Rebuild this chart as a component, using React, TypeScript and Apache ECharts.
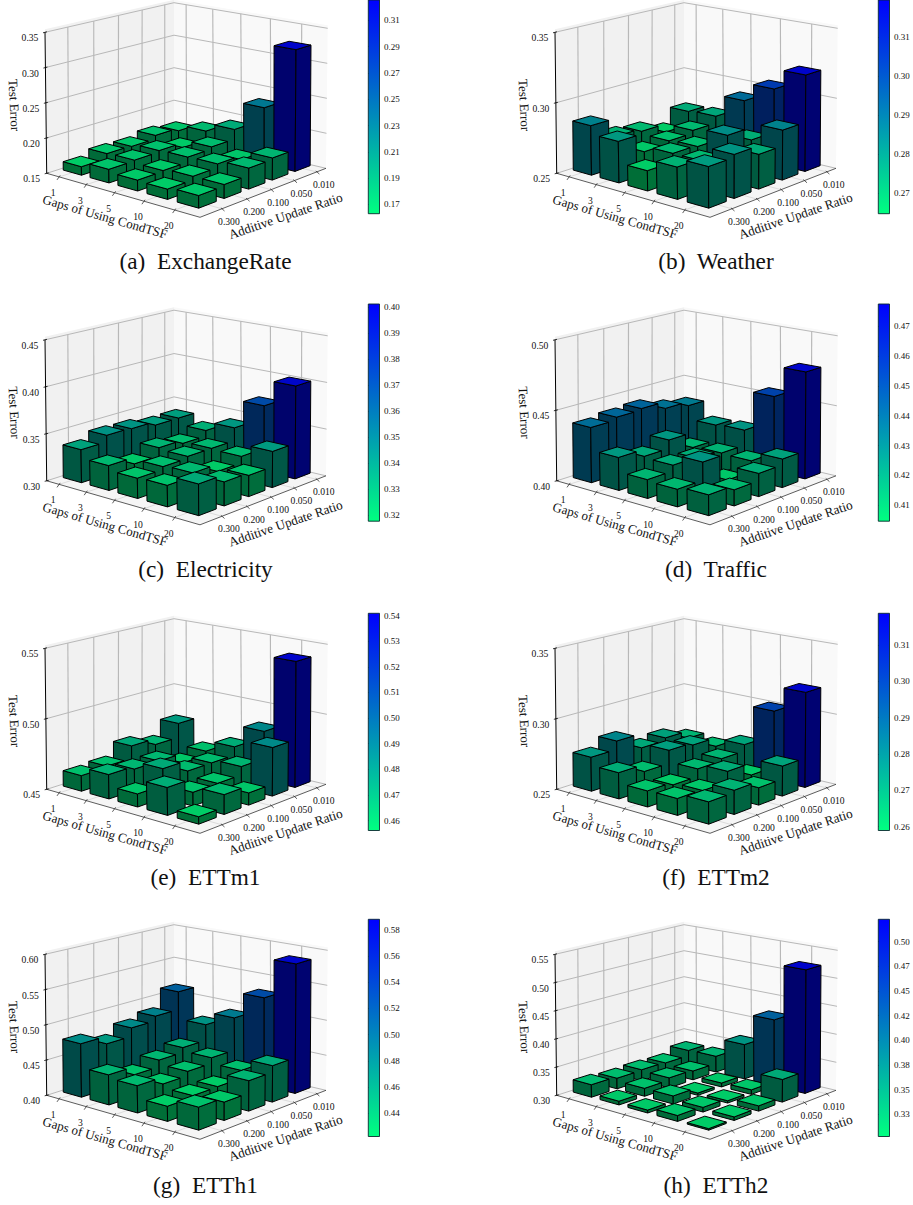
import React, { useEffect, useRef } from "react";
import * as echarts from "echarts";

const gapLabels = ["1", "3", "5", "10", "20"];
const ratioLabels = ["0.010", "0.050", "0.100", "0.200", "0.300"];

// rows: additive update ratio 0.010 -> 0.300; columns: gaps 1 -> 20
const exchangeRate = [
  [0.169, 0.178, 0.19, 0.231, 0.323],
  [0.173, 0.165, 0.176, 0.168, 0.181],
  [0.168, 0.172, 0.173, 0.174, 0.179],
  [0.169, 0.17, 0.166, 0.169, 0.169],
  [0.162, 0.169, 0.165, 0.164, 0.167],
];
const weather = [
  [0.274, 0.275, 0.291, 0.304, 0.3185],
  [0.264, 0.27, 0.2635, 0.273, 0.285],
  [0.27, 0.268, 0.269, 0.282, 0.274],
  [0.272, 0.266, 0.27, 0.27, 0.28],
  [0.285, 0.279, 0.264, 0.272, 0.278],
];
const electricity = [
  [0.337, 0.33, 0.34, 0.371, 0.399],
  [0.337, 0.324, 0.326, 0.325, 0.338],
  [0.341, 0.3277, 0.326, 0.318, 0.322],
  [0.342, 0.319, 0.324, 0.3255, 0.3246],
  [0.335, 0.326, 0.321, 0.322, 0.332],
];
const traffic = [
  [0.434, 0.424, 0.425, 0.454, 0.476],
  [0.437, 0.413, 0.414, 0.4135, 0.42],
  [0.442, 0.424, 0.416, 0.406, 0.416],
  [0.441, 0.418, 0.417, 0.4245, 0.411],
  [0.439, 0.423, 0.413, 0.412, 0.414],
];
const ettm1 = [
  [0.477, 0.461, 0.469, 0.485, 0.5395],
  [0.4666, 0.458, 0.463, 0.4655, 0.484],
  [0.471, 0.465, 0.463, 0.4596, 0.4584],
  [0.462, 0.465, 0.4705, 0.4595, 0.4635],
  [0.461, 0.467, 0.459, 0.469, 0.455],
];
const ettm2 = [
  [0.266, 0.2646, 0.2706, 0.2996, 0.3175],
  [0.2715, 0.271, 0.266, 0.2595, 0.271],
  [0.2696, 0.2727, 0.2645, 0.268, 0.262],
  [0.28, 0.2633, 0.2592, 0.2607, 0.2665],
  [0.274, 0.2683, 0.2611, 0.2615, 0.265],
];
const etth1 = [
  [0.5105, 0.47, 0.489, 0.527, 0.584],
  [0.484, 0.447, 0.442, 0.434, 0.451],
  [0.477, 0.44, 0.434, 0.423, 0.442],
  [0.4646, 0.4305, 0.428, 0.4227, 0.425],
  [0.4755, 0.442, 0.4376, 0.4206, 0.431],
];
const etth2 = [
  [0.328, 0.329, 0.3625, 0.419, 0.5195],
  [0.3185, 0.316, 0.307, 0.308, 0.3395],
  [0.32, 0.318, 0.304, 0.304, 0.309],
  [0.319, 0.314, 0.314, 0.308, 0.306],
  [0.322, 0.3065, 0.305, 0.31, 0.3025],
];

const zTicksA = ["0.15", "0.20", "0.25", "0.30", "0.35"];
const zTicksB = ["0.25", "0.30", "0.35"];
const zTicksC = ["0.30", "0.35", "0.40", "0.45"];
const zTicksD = ["0.40", "0.45", "0.50"];
const zTicksE = ["0.45", "0.50", "0.55"];
const zTicksG = ["0.40", "0.45", "0.50", "0.55", "0.60"];
const zTicksH = ["0.30", "0.35", "0.40", "0.45", "0.50", "0.55"];

const cbA = ["0.17", "0.19", "0.21", "0.23", "0.25", "0.27", "0.29", "0.31"];
const cbB = ["0.27", "0.28", "0.29", "0.30", "0.31"];
const cbC = ["0.32", "0.33", "0.34", "0.35", "0.36", "0.37", "0.38", "0.39", "0.40"];
const cbD = ["0.41", "0.42", "0.43", "0.44", "0.45", "0.46", "0.47"];
const cbE = ["0.46", "0.47", "0.48", "0.49", "0.50", "0.51", "0.52", "0.53", "0.54"];
const cbF = ["0.26", "0.27", "0.28", "0.29", "0.30", "0.31"];
const cbG = ["0.44", "0.46", "0.48", "0.50", "0.52", "0.54", "0.56", "0.58"];
const cbHValues = [0.325, 0.35, 0.375, 0.4, 0.425, 0.45, 0.475, 0.5];
const cbHLabels = ["0.33", "0.35", "0.38", "0.40", "0.42", "0.45", "0.47", "0.50"];

// colour bar extents
const rangeA = [0.163, 0.3255];
const rangeB = [0.2648, 0.3196];
const rangeC = [0.3177, 0.4013];
const rangeD = [0.4047, 0.4774];
const rangeE = [0.4561, 0.5409];
const rangeF = [0.2589, 0.3187];
const rangeG = [0.4224, 0.588];
const rangeH = [0.3024, 0.5226];

const panels = [
  { title: "(a)  ExchangeRate", values: exchangeRate, z: zTicksA, cb: cbA.map(Number), cbL: cbA, range: rangeA, col: 0, row: 0 },
  { title: "(b)  Weather", values: weather, z: zTicksB, cb: cbB.map(Number), cbL: cbB, range: rangeB, col: 1, row: 0 },
  { title: "(c)  Electricity", values: electricity, z: zTicksC, cb: cbC.map(Number), cbL: cbC, range: rangeC, col: 0, row: 1 },
  { title: "(d)  Traffic", values: traffic, z: zTicksD, cb: cbD.map(Number), cbL: cbD, range: rangeD, col: 1, row: 1 },
  { title: "(e)  ETTm1", values: ettm1, z: zTicksE, cb: cbE.map(Number), cbL: cbE, range: rangeE, col: 0, row: 2 },
  { title: "(f)  ETTm2", values: ettm2, z: zTicksB, cb: cbF.map(Number), cbL: cbF, range: rangeF, col: 1, row: 2 },
  { title: "(g)  ETTh1", values: etth1, z: zTicksG, cb: cbG.map(Number), cbL: cbG, range: rangeG, col: 0, row: 3 },
  { title: "(h)  ETTh2", values: etth2, z: zTicksH, cb: cbHValues, cbL: cbHLabels, range: rangeH, col: 1, row: 3 },
];

const colX = [0, 510];
const rowY = [0, 307.5, 616, 922];
const FONT = '"Liberation Serif", "Times New Roman", serif';

type P = [number, number];
function homography(p00: P, p10: P, p11: P, p01: P) {
  const dx1 = p10[0] - p11[0], dy1 = p10[1] - p11[1];
  const dx2 = p01[0] - p11[0], dy2 = p01[1] - p11[1];
  const sx = p00[0] - p10[0] + p11[0] - p01[0];
  const sy = p00[1] - p10[1] + p11[1] - p01[1];
  const det = dx1 * dy2 - dx2 * dy1;
  const g = (sx * dy2 - sy * dx2) / det;
  const h = (dx1 * sy - dy1 * sx) / det;
  const a = p10[0] - p00[0] + g * p10[0], b = p01[0] - p00[0] + h * p01[0], c = p00[0];
  const d = p10[1] - p00[1] + g * p10[1], e = p01[1] - p00[1] + h * p01[1], f = p00[1];
  return (u: number, v: number): P => {
    const w = g * u + h * v + 1;
    return [(a * u + b * v + c) / w, (d * u + e * v + f) / w];
  };
}
// u runs along Gaps (back -> right), v along Ratio (back -> left)
const floorH = homography([174, 132.7], [326, 168.3], [200, 217.3], [46.7, 173.3]);
const topH = homography([174, 2.7], [327.7, 28.3], [199, 67], [45, 32.3]);
const proj = (ox: number, oy: number, u: number, v: number, f: number): P => {
  const a = floorH(u, v), b = topH(u, v);
  return [ox + a[0] + (b[0] - a[0]) * f, oy + a[1] + (b[1] - a[1]) * f];
};
const uAt = (i: number) => 0.09 + 0.19 * i;
const vAt = (j: number) => 0.08 + 0.19 * j;
const HALF = 0.065;

const poly = (points: P[], fill: string, stroke?: string, lineWidth = 1) => ({
  type: "polygon",
  shape: { points },
  style: { fill, stroke: stroke || "none", lineWidth, lineJoin: "round" },
});
const seg = (a: P, b: P, stroke: string, lineWidth: number) => ({
  type: "line",
  shape: { x1: a[0], y1: a[1], x2: b[0], y2: b[1] },
  style: { stroke, lineWidth, fill: "none" },
});
const txt = (text: string, x: number, y: number, fontSize: number, rotation = 0, color = "#111") => ({
  type: "text",
  x,
  y,
  rotation,
  style: { text, fontSize, fontFamily: FONT, fill: color, align: "center", verticalAlign: "middle" },
});

function shade(t: number, k: number) {
  const g = Math.round(255 * (1 - t) * k);
  const b = Math.round(255 * (0.5 + 0.5 * t) * k);
  return `rgb(0,${g},${b})`;
}

function buildOption() {
  const series: any[] = [];
  const grid: any[] = [];
  const xAxis: any[] = [];
  const yAxis: any[] = [];
  const graphic: any[] = [];

  panels.forEach((p, idx) => {
    const ox = colX[p.col], oy = rowY[p.row];
    const zs = p.z.map(Number);
    const zMin = zs[0], zMax = zs[zs.length - 1];
    const vMin = p.range[0], vMax = p.range[1];

    series.push({
      type: "custom",
      coordinateSystem: "none",
      silent: true,
      z: 1,
      data: [[idx]],
      renderItem: () => {
        const P = (u: number, v: number, f: number) => proj(ox, oy, u, v, f);
        const ch: any[] = [];
        const TOP = 1.022;
        ch.push(poly([P(0, 0, 0), P(0, 1, 0), P(0, 1, TOP), P(0, 0, TOP)], "#f1f1f1"));
        ch.push(poly([P(0, 0, 0), P(1, 0, 0), P(1, 0, TOP), P(0, 0, TOP)], "#f9f9f9"));
        ch.push(poly([P(0, 0, 0), P(1, 0, 0), P(1, 1, 0), P(0, 1, 0)], "#f5f5f5"));
        const GRID = "#b8b8b8";
        zs.forEach((z) => {
          const f = (z - zMin) / (zMax - zMin);
          ch.push(seg(P(0, 1, f), P(0, 0, f), GRID, 1));
          ch.push(seg(P(0, 0, f), P(1, 0, f), GRID, 1));
        });
        for (let j = 0; j < 5; j++) {
          ch.push(seg(P(0, vAt(j), 0), P(0, vAt(j), 1), GRID, 1.15));
          ch.push(seg(P(0, vAt(j), 0), P(1, vAt(j), 0), "#d0d0d0", 0.7));
        }
        for (let i = 0; i < 5; i++) {
          ch.push(seg(P(uAt(i), 0, 0), P(uAt(i), 0, 1), GRID, 1.15));
          ch.push(seg(P(uAt(i), 0, 0), P(uAt(i), 1, 0), "#d0d0d0", 0.7));
        }
        // axis edges
        ch.push(seg(P(0, 1, 0), P(0, 1, 1), "#000", 1));
        ch.push(seg(P(0, 1, 0), P(1, 1, 0), "#333", 0.8));
        ch.push(seg(P(1, 0, 0), P(1, 1, 0), "#333", 0.8));
        // z ticks + labels
        zs.forEach((z, k) => {
          const f = (z - zMin) / (zMax - zMin);
          const a = P(0, 1, f);
          ch.push(seg([a[0] - 2, a[1] + 0.5], [a[0] + 2, a[1] - 0.5], "#000", 0.8));
          ch.push(txt(p.z[k], a[0] - 15, a[1] + 5.5, 9.6));
        });
        gapLabels.forEach((t, i) => {
          const a = P(uAt(i), 1, 0);
          const b: P = [a[0] - 2.2, a[1] + 3];
          ch.push(seg([a[0] + 1, a[1] - 1.5], b, "#333", 0.8));
          ch.push(txt(t, a[0] - 6, a[1] + 15.5, 9.6));
        });
        ratioLabels.forEach((t, j) => {
          const a = P(1, vAt(j), 0);
          const b: P = [a[0] + 2.6, a[1] + 2.2];
          ch.push(seg([a[0] - 1, a[1] - 1], b, "#333", 0.8));
          ch.push(txt(t, a[0] + 7, a[1] + 12.5, 9.6));
        });
        ch.push(txt("Test Error", ox + 14.3, oy + 105, 13, (-87 * Math.PI) / 180));
        ch.push(txt("Gaps of Using CondTSF", ox + 105, oy + 216.7, 13, (-16 * Math.PI) / 180));
        ch.push(txt("Additive Update Ratio", ox + 285.5, oy + 215.8, 13.2, (18.8 * Math.PI) / 180));
        return { type: "group", children: ch };
      },
    });

    const bars: number[][] = [];
    p.values.forEach((row, j) => row.forEach((val, i) => bars.push([i, j, val])));
    bars.sort((a, b) => a[0] + a[1] - (b[0] + b[1]));
    series.push({
      type: "custom",
      coordinateSystem: "none",
      silent: true,
      z: 2,
      data: bars,
      renderItem: (_: any, api: any) => {
        const i = api.value(0), j = api.value(1), val = api.value(2);
        const u0 = uAt(i) - HALF, u1 = uAt(i) + HALF;
        const v0 = vAt(j) - HALF, v1 = vAt(j) + HALF;
        const f = (val - zMin) / (zMax - zMin);
        const t = Math.min(1, Math.max(0, (val - vMin) / (vMax - vMin)));
        const Q = (u: number, v: number, h: number) => proj(ox, oy, u, v, h);
        const E = "#000";
        return {
          type: "group",
          children: [
            poly([Q(u0, v1, 0), Q(u1, v1, 0), Q(u1, v1, f), Q(u0, v1, f)], shade(t, 0.43), E, 1),
            poly([Q(u1, v0, 0), Q(u1, v1, 0), Q(u1, v1, f), Q(u1, v0, f)], shade(t, 0.45), E, 1),
            poly([Q(u0, v0, f), Q(u1, v0, f), Q(u1, v1, f), Q(u0, v1, f)], shade(t, 0.8), E, 1),
          ],
        };
      },
    });

    // colour bar as its own axis
    const cbLeft = [368.3, 878.3][p.col];
    const cbTop = [-3.5, 304, 613.3, 919.3][p.row];
    grid.push({ left: cbLeft, top: cbTop, width: 11.2, height: 217.2, show: false });
    xAxis.push({ type: "value", gridIndex: idx, min: 0, max: 1, show: false });
    yAxis.push({
      type: "value",
      gridIndex: idx,
      position: "right",
      min: vMin,
      max: vMax,
      splitLine: { show: false },
      axisLine: { show: false },
      axisTick: { show: true, customValues: p.cb, length: 2.5, lineStyle: { color: "#000", width: 0.8 } },
      axisLabel: {
        show: true,
        customValues: p.cb,
        margin: 4.5,
        fontSize: 9,
        fontFamily: FONT,
        color: "#111",
        formatter: (v: number) => {
          const k = p.cb.findIndex((c) => Math.abs(c - v) < 1e-6);
          return k >= 0 ? p.cbL[k] : "";
        },
      },
    });
    series.push({
      type: "custom",
      coordinateSystem: "cartesian2d",
      xAxisIndex: idx,
      yAxisIndex: idx,
      silent: true,
      clip: false,
      z: 3,
      data: [[0, vMin, 1, vMax]],
      renderItem: (_: any, api: any) => {
        const a = api.coord([api.value(0), api.value(1)]);
        const b = api.coord([api.value(2), api.value(3)]);
        return {
          type: "rect",
          shape: { x: a[0], y: b[1], width: b[0] - a[0], height: a[1] - b[1] },
          style: {
            fill: new echarts.graphic.LinearGradient(0, 1, 0, 0, [
              { offset: 0, color: "#00ff80" },
              { offset: 1, color: "#0000ff" },
            ]),
            stroke: "#0a2a30",
            lineWidth: 0.9,
          },
        };
      },
    });

    graphic.push({
      type: "text",
      x: [205.5, 716][p.col],
      y: [261, 569, 877, 1185][p.row],
      style: {
        text: p.title,
        fontSize: 23.3,
        fontFamily: FONT,
        fill: "#111",
        align: "center",
        verticalAlign: "middle",
      },
    });
  });

  return { animation: false, backgroundColor: "#fff", grid, xAxis, yAxis, series, graphic };
}

export default function App() {
  const ref = useRef<HTMLDivElement>(null);
  useEffect(() => {
    const chart = echarts.init(ref.current!, undefined, { renderer: "svg" });
    chart.setOption(buildOption() as any);
    return () => chart.dispose();
  }, []);
  return <div ref={ref} style={{ position: "fixed", left: 0, top: 0, width: 913, height: 1205 }} />;
}
